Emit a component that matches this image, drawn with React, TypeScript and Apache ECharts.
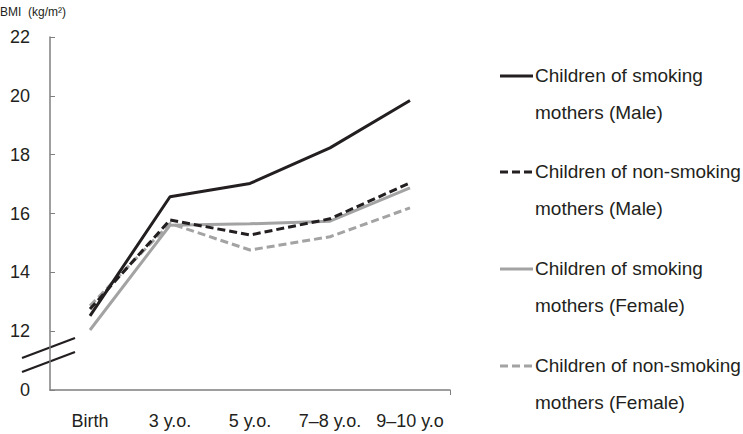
import React, { useEffect, useRef } from "react";
import * as echarts from "echarts";

const categories = ["Birth", "3 y.o.", "5 y.o.", "7\u20138 y.o.", "9\u201310 y.o"];
const smokingMale = [12.52, 16.57, 17.02, 18.23, 19.84];
const nonSmokingMale = [12.75, 15.78, 15.27, 15.82, 17.04];
const smokingFemale = [12.04, 15.6, 15.65, 15.74, 16.87];
const nonSmokingFemale = [12.86, 15.66, 14.76, 15.21, 16.19];
const seriesNames = [
  "Children of smoking\nmothers (Male)",
  "Children of non-smoking\nmothers (Male)",
  "Children of smoking\nmothers (Female)",
  "Children of non-smoking\nmothers (Female)",
];

const FONT = "'Liberation Sans', Arial, Helvetica, sans-serif";
const DARK = "#231f20";
const GRAY = "#a3a3a3";
const AXIS = "#7f7f7f";

export default function App() {
  const ref = useRef<HTMLDivElement>(null);
  useEffect(() => {
    if (!ref.current) return;
    const chart = echarts.init(ref.current, undefined, { renderer: "svg" });
    const styles = [
      { color: DARK, type: "solid" as const },
      { color: DARK, type: [8, 4] as any },
      { color: GRAY, type: "solid" as const },
      { color: GRAY, type: [8, 4] as any },
    ];
    const datas = [smokingMale, nonSmokingMale, smokingFemale, nonSmokingFemale];
    const legendTops = [75, 171, 268, 365];
    const legendGraphics: any[] = [];
    seriesNames.forEach((name, i) => {
      const y = legendTops[i];
      legendGraphics.push({
        type: "line",
        shape: { x1: 500, y1: y + 1, x2: 533, y2: y + 1 },
        style: {
          stroke: styles[i].color,
          lineWidth: 3,
          lineDash: styles[i].type === "solid" ? null : [8, 4],
        },
      });
      const lines = name.split("\n");
      lines.forEach((t, k) => {
        legendGraphics.push({
          type: "text",
          x: 535,
          y: y + k * 37,
          style: {
            text: t,
            font: `19px ${FONT}`,
            fill: DARK,
            textAlign: "left",
            textVerticalAlign: "middle",
            verticalAlign: "middle",
          },
        });
      });
    });

    chart.setOption({
      animation: false,
      backgroundColor: "#ffffff",
      grid: { left: 50, right: 293, top: 37, bottom: 44, containLabel: false },
      xAxis: [
        {
          type: "category",
          data: categories,
          boundaryGap: true,
          axisLine: { lineStyle: { color: AXIS, width: 1.5 } },
          axisTick: { alignWithLabel: true, interval: 0, length: 5, lineStyle: { color: AXIS, width: 1 } },
          axisLabel: { color: DARK, fontSize: 18, fontFamily: FONT, margin: 22, interval: 0 },
        },
        {
          type: "value",
          min: 0,
          max: 5,
          position: "bottom",
          axisLine: { show: false },
          axisTick: { show: true, customValues: [5], length: 5, lineStyle: { color: AXIS, width: 1 } },
          axisLabel: { show: false },
          splitLine: { show: false },
        },
      ],
      yAxis: {
        type: "value",
        min: 10,
        max: 22,
        interval: 2,
        axisLine: { show: true, lineStyle: { color: AXIS, width: 1.5 } },
        axisTick: { show: true, inside: true, length: 5, lineStyle: { color: AXIS, width: 1 } },
        splitLine: { show: false },
        axisLabel: {
          color: DARK,
          fontSize: 18,
          fontFamily: FONT,
          margin: 20,
          formatter: (v: number) => (v === 10 ? "0" : String(v)),
        },
      },
      series: datas.map((d, i) => ({
        name: seriesNames[i],
        type: "line",
        xAxisIndex: 0,
        data: d,
        symbol: "none",
        lineStyle: { color: styles[i].color, width: 3, type: styles[i].type },
        itemStyle: { color: styles[i].color },
        z: 10 - i,
      })),
      legend: { show: false },
      graphic: [
        {
          type: "text",
          x: 0,
          y: 12,
          style: {
            text: "BMI  (kg/m²)",
            font: `12px ${FONT}`,
            fill: DARK,
            textVerticalAlign: "middle",
            verticalAlign: "middle",
          },
        },
        {
          type: "line",
          shape: { x1: 22, y1: 358, x2: 75, y2: 338 },
          style: { stroke: DARK, lineWidth: 2.2 },
        },
        {
          type: "line",
          shape: { x1: 22, y1: 372, x2: 75, y2: 352 },
          style: { stroke: DARK, lineWidth: 2.2 },
        },
        ...legendGraphics,
      ],
    });
    return () => chart.dispose();
  }, []);
  return (
    <div
      ref={ref}
      style={{ position: "absolute", left: 0, top: 0, width: 743, height: 434, background: "#fff" }}
    />
  );
}
